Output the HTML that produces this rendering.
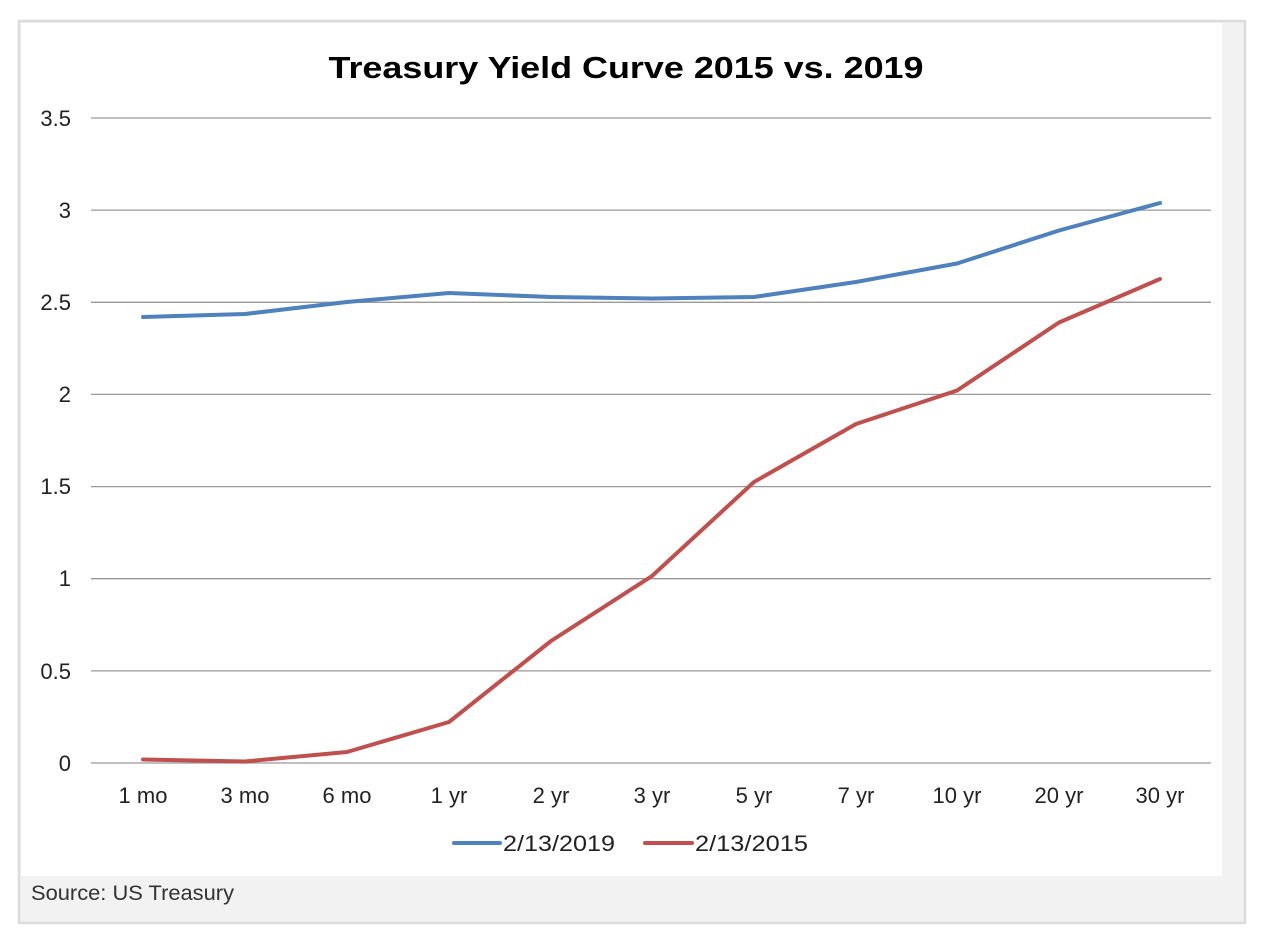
<!DOCTYPE html>
<html><head><style>
html,body{margin:0;padding:0;background:#fff;}
svg{display:block;}
</style></head><body>
<svg width="1262" height="944" xmlns="http://www.w3.org/2000/svg" font-family="Liberation Sans, Arial, sans-serif">
<rect x="19" y="21" width="1226" height="902" fill="#f2f2f2" stroke="#dcdcdc" stroke-width="2.5"/>
<rect x="21" y="23" width="1201" height="853" fill="#fff"/>
<text x="626" y="78" text-anchor="middle" font-size="31" font-weight="bold" fill="#000" textLength="595" lengthAdjust="spacingAndGlyphs">Treasury Yield Curve 2015 vs. 2019</text>
<g stroke="#999" stroke-width="1.3">
<line x1="91" x2="1211" y1="118" y2="118"/>
<line x1="91" x2="1211" y1="210.1" y2="210.1"/>
<line x1="91" x2="1211" y1="302.3" y2="302.3"/>
<line x1="91" x2="1211" y1="394.4" y2="394.4"/>
<line x1="91" x2="1211" y1="486.6" y2="486.6"/>
<line x1="91" x2="1211" y1="578.7" y2="578.7"/>
<line x1="91" x2="1211" y1="670.9" y2="670.9"/>
<line x1="91" x2="1211" y1="763" y2="763"/>
</g>
<g font-size="22" fill="#222" text-anchor="end">
<text x="71" y="126">3.5</text>
<text x="71" y="218">3</text>
<text x="71" y="310">2.5</text>
<text x="71" y="402">2</text>
<text x="71" y="494">1.5</text>
<text x="71" y="586">1</text>
<text x="71" y="679">0.5</text>
<text x="71" y="771">0</text>
</g>
<g font-size="22" fill="#222" text-anchor="middle">
<text x="143" y="803">1 mo</text>
<text x="245" y="803">3 mo</text>
<text x="347" y="803">6 mo</text>
<text x="449" y="803">1 yr</text>
<text x="551" y="803">2 yr</text>
<text x="652" y="803">3 yr</text>
<text x="754" y="803">5 yr</text>
<text x="856" y="803">7 yr</text>
<text x="957" y="803">10 yr</text>
<text x="1059" y="803">20 yr</text>
<text x="1160" y="803">30 yr</text>
</g>
<polyline fill="none" stroke="#4f81bd" stroke-width="4" stroke-linejoin="round" stroke-linecap="round"
points="143,317 245,314 347,302 449,293 551,297 652,298.5 754,297 856,282 957,263.5 1059,230.5 1160,203"/>
<polyline fill="none" stroke="#c0504d" stroke-width="4" stroke-linejoin="round" stroke-linecap="round"
points="143,759.5 245,761.5 347,752 449,722 551,641 652,576 754,482 856,424 957,390.5 1059,322.5 1160,279"/>
<line x1="454" x2="500" y1="843" y2="843" stroke="#4f81bd" stroke-width="4" stroke-linecap="round"/>
<text x="503" y="851" font-size="22" fill="#222" textLength="112" lengthAdjust="spacingAndGlyphs">2/13/2019</text>
<line x1="645" x2="692" y1="843" y2="843" stroke="#c0504d" stroke-width="4" stroke-linecap="round"/>
<text x="695" y="851" font-size="22" fill="#222" textLength="113" lengthAdjust="spacingAndGlyphs">2/13/2015</text>
<text x="31" y="900" font-size="21" fill="#333" textLength="203" lengthAdjust="spacingAndGlyphs">Source: US Treasury</text>
</svg>
</body></html>
